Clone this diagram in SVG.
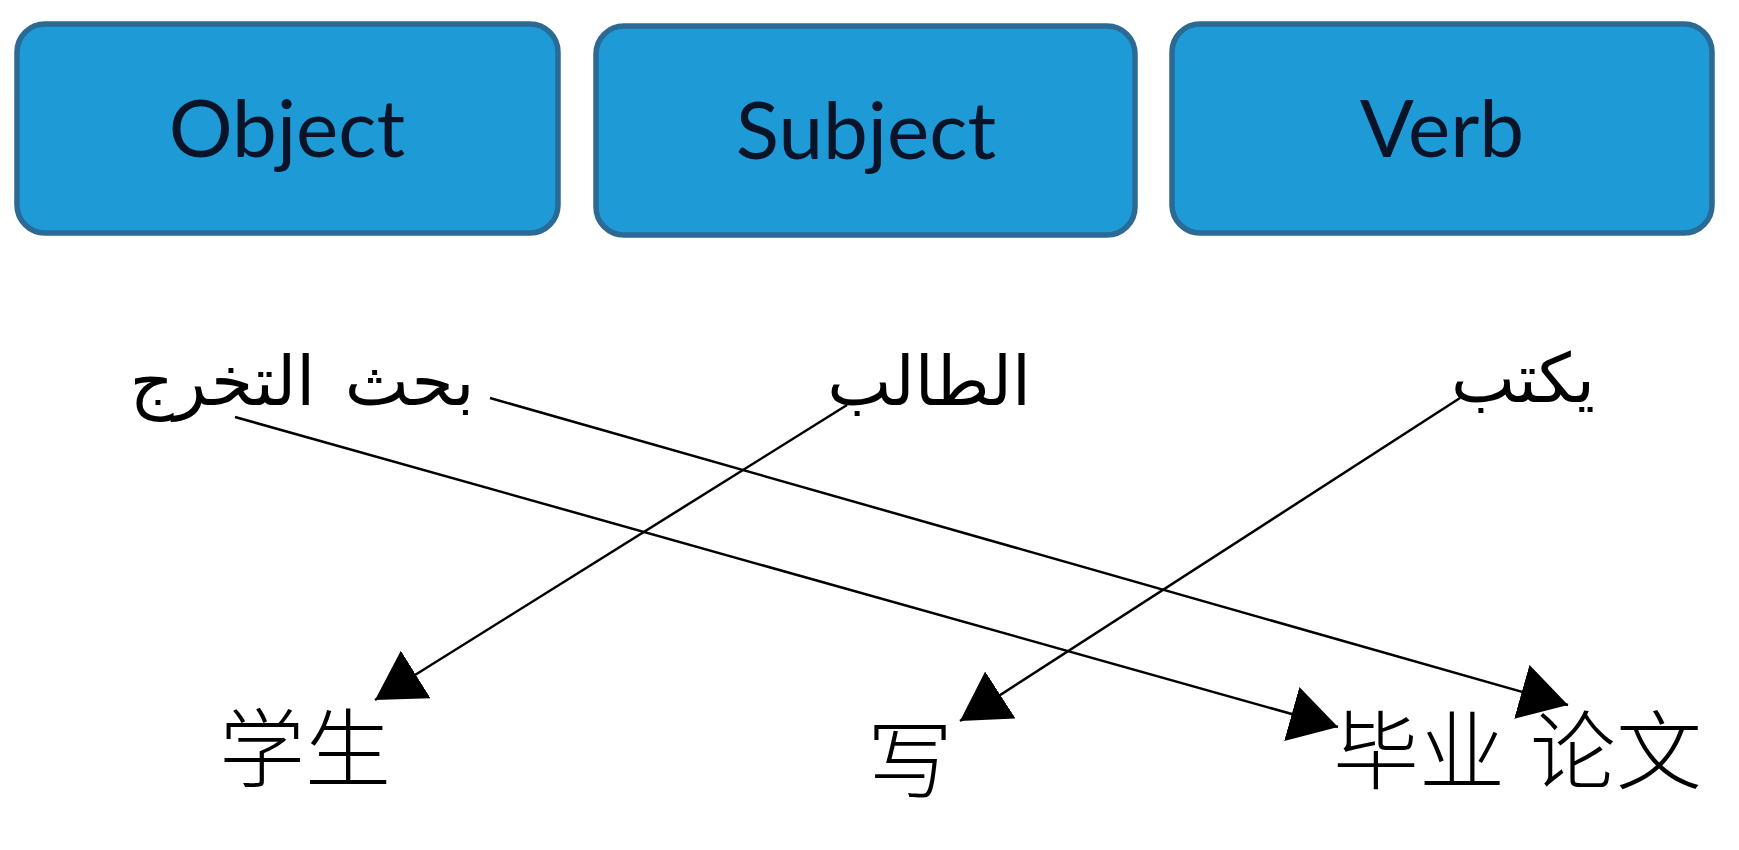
<svg xmlns="http://www.w3.org/2000/svg" width="1739" height="850" viewBox="0 0 1739 850">
<style>
.box{fill:#1e9bd7;stroke:#2b6a94;stroke-width:5.5}
.lbl{font-family:Lato,"Open Sans","Liberation Sans",sans-serif;font-size:80px;fill:#0a1428;text-anchor:middle}
.ar{font-family:"DejaVu Sans",sans-serif;font-size:68px;fill:#000;text-anchor:middle}
.zh{font-family:"Noto Sans CJK SC",sans-serif;font-size:86px;font-weight:300;fill:#000}
.con{stroke:#000;stroke-width:2.5;fill:none;marker-end:url(#ah)}
</style>
<defs>
<marker id="ah" markerUnits="userSpaceOnUse" markerWidth="50" markerHeight="58" viewBox="0 0 50 58" refX="48" refY="28" orient="auto">
<path d="M0,0 L48,28 L0,56 z" fill="#000"/>
</marker>
</defs>
<rect width="1739" height="850" fill="#fff"/>
<g id="node-object">
<rect class="box" x="17" y="24" width="541" height="209" rx="28"/>
<text class="lbl" x="287" y="157">Object</text>
</g>
<g id="node-subject">
<rect class="box" x="596" y="26" width="539" height="209" rx="28"/>
<text class="lbl" x="866" y="159">Subject</text>
</g>
<g id="node-verb">
<rect class="box" x="1172" y="24" width="540" height="209" rx="28"/>
<text class="lbl" x="1442" y="157">Verb</text>
</g>
<g id="node-ar-thesis">
<text class="ar" x="302" y="405" direction="rtl" word-spacing="8">بحث التخرج</text>
</g>
<g id="node-ar-student">
<text class="ar" x="929" y="405" direction="rtl">الطالب</text>
</g>
<g id="node-ar-writes">
<text class="ar" x="1523" y="402" direction="rtl">يكتب</text>
</g>
<g id="node-zh-student">
<text class="zh" x="219" y="781">学生</text>
</g>
<g id="node-zh-write">
<text class="zh" x="867" y="792">写</text>
</g>
<g id="node-zh-thesis">
<text class="zh" x="1333" y="783">毕业</text>
<text class="zh" x="1530" y="783">论文</text>
</g>
<g id="connectors">
<line class="con" x1="490" y1="398" x2="1568" y2="705"/>
<line class="con" x1="235" y1="417" x2="1338" y2="727"/>
<line class="con" x1="847" y1="405" x2="375" y2="700"/>
<line class="con" x1="1460" y1="398" x2="960" y2="721"/>
</g>
</svg>
